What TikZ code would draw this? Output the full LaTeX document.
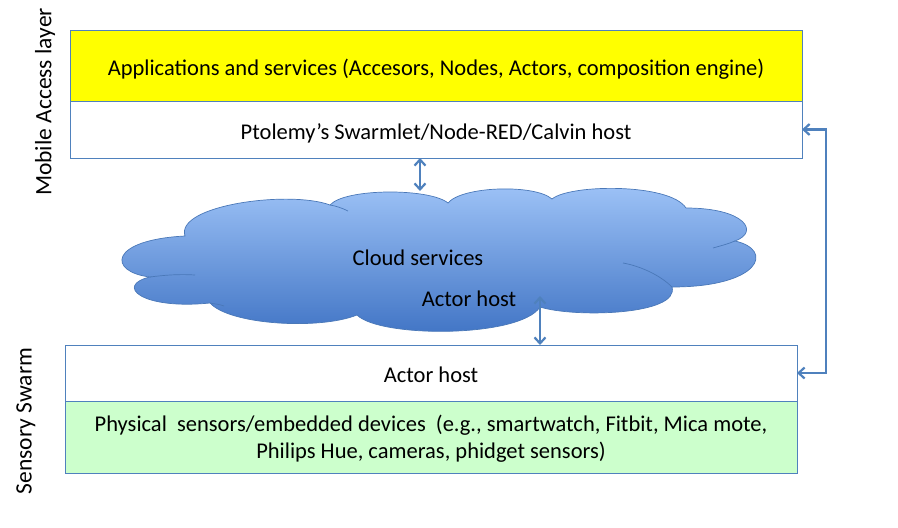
\documentclass[tikz,border=0pt]{standalone}
\usepackage{fontspec}
\setmainfont{Carlito}
\usepackage{tikz}
\usetikzlibrary{positioning,arrows.meta}
\definecolor{edge}{HTML}{4F81BD}
\definecolor{appsFill}{HTML}{FFFF00}
\definecolor{sensFill}{HTML}{CCFFCC}
\definecolor{cloudTop}{HTML}{9EC3F7}
\definecolor{cloudBot}{HTML}{3F73C4}
\definecolor{cloudLine}{HTML}{4A78B8}

\tikzset{
  layer/.style={draw=edge, line width=0.8pt, minimum width=732pt, outer sep=0pt,
                align=center, text height=21pt, text depth=2pt,
                font=\fontsize{22.5}{27}\selectfont},
  label/.style={font=\fontsize{22.5}{27}\selectfont},
  link/.style={draw=edge, line width=2.2pt, {Straight Barb[length=6pt,width=11pt]}-{Straight Barb[length=6pt,width=11pt]}},
  side/.style={rotate=90, font=\fontsize{23.5}{28}\selectfont},
  puff/.style={draw=cloudLine, line width=0.7pt}
}

\begin{document}
\begin{tikzpicture}[x=1pt, y=-1pt]
  \useasboundingbox (0,0) rectangle (898,528);

  % mobile access layer
  \node[layer, fill=appsFill, minimum height=71pt] (apps) at (436,65.5)
    {Applications and services (Accesors, Nodes, Actors, composition engine)};
  \node[layer, fill=white, minimum height=57pt, below=0pt of apps] (host)
    {Ptolemy’s Swarmlet/Node-RED/Calvin host};

  % cloud
  \path[puff, top color=cloudTop, bottom color=cloudBot]
    (150,277) .. controls (108,272) and (108,240) .. (185,236)
    .. controls (175,205) and (290,190) .. (330,205)
    .. controls (345,188) and (430,188) .. (448,203)
    .. controls (462,186) and (535,184) .. (552,199)
    .. controls (570,184) and (670,183) .. (686,208)
    .. controls (745,208) and (760,232) .. (735,241)
    .. controls (775,250) and (760,287) .. (672,287)
    .. controls (680,315) and (575,318) .. (540,307)
    .. controls (520,338) and (380,338) .. (357,315)
    .. controls (320,330) and (230,325) .. (210,303)
    .. controls (140,310) and (115,285) .. (150,277) -- cycle;
  \draw[puff] (150,277) .. controls (165,275) and (180,274) .. (195,275);
  \draw[puff] (330,205) .. controls (336,206) and (342,208) .. (348,211);
  \draw[puff] (210,303) .. controls (214,304) and (219,304) .. (224,306);
  \draw[puff] (735,241) .. controls (728,244) and (720,246) .. (713,248);
  \draw[puff] (672,287) .. controls (660,275) and (640,266) .. (623,263);
  \node[label] (cloudsvc) at (418,258) {Cloud services};
  \node[label] (cloudhost) at (469,299) {Actor host};

  % sensory swarm
  \node[layer, fill=white, minimum height=56pt] (swhost) at (431,373) {Actor host};
  \node[layer, fill=sensFill, minimum height=72pt, text height=, text depth=0pt,
        below=0pt of swhost] (sensors)
    {Physical~ sensors/embedded devices~ (e.g., smartwatch, Fitbit, Mica mote,\\
     Philips Hue, cameras, phidget sensors)};

  \node[side] (mobile) at (45,102) {Mobile Access layer};
  \node[side] (swarm) at (26,421) {Sensory Swarm};

  \coordinate (cloudtop) at (420,191);
  \coordinate (cloudport) at (540,296);
  \draw[link] (cloudtop |- host.south) -- (cloudtop);
  \draw[link] (cloudport) -- (cloudport |- swhost.north);
  \draw[link] (host.east) -- ([xshift=24pt]host.east) |- (swhost.east);
\end{tikzpicture}
\end{document}
